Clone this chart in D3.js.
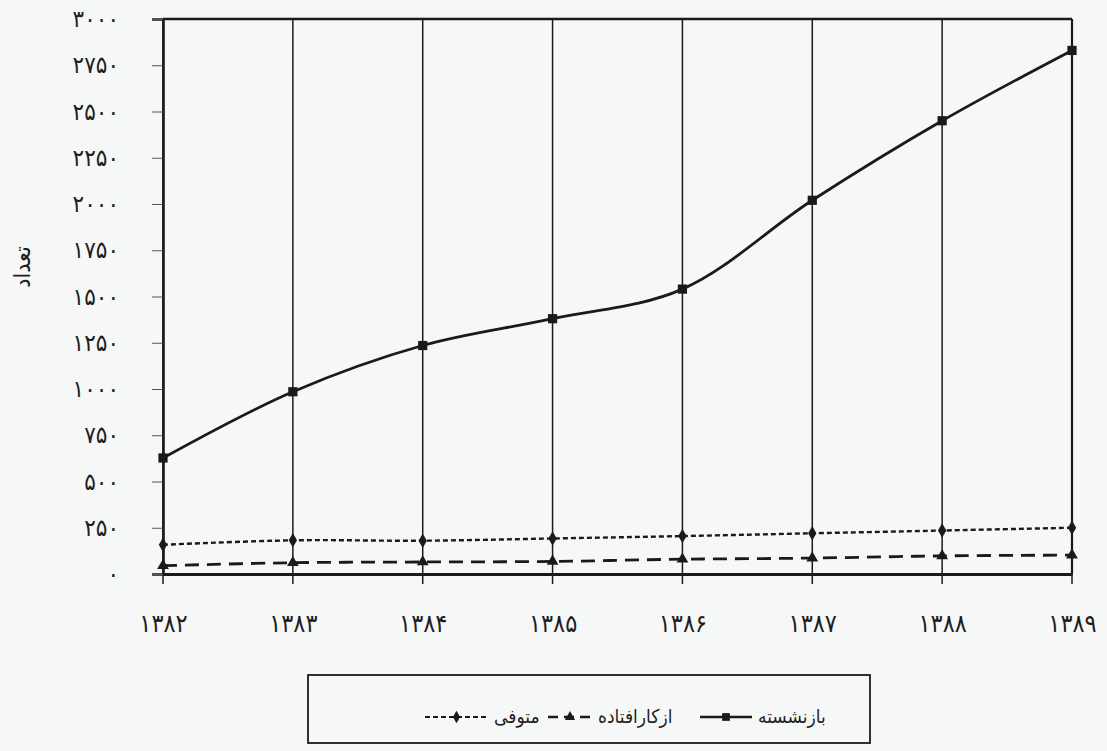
<!DOCTYPE html>
<html>
<head>
<meta charset="utf-8">
<script src="https://cdn.jsdelivr.net/npm/d3@7"></script>
<style>
  html, body { margin: 0; padding: 0; background: #f6f8f8; }
  svg { display: block; }
  text { font-family: "DejaVu Sans Condensed", "DejaVu Sans", sans-serif; fill: #1e1e1e; }
</style>
</head>
<body>
<svg id="chart" width="1107" height="751"></svg>
<script>
// ---- data ----
const categories = ["1382", "1383", "1384", "1385", "1386", "1387", "1388", "1389"];
const categoryLabels = ["۱۳۸۲", "۱۳۸۳", "۱۳۸۴", "۱۳۸۵", "۱۳۸۶", "۱۳۸۷", "۱۳۸۸", "۱۳۸۹"];
const retired = [627, 985, 1235, 1380, 1540, 2020, 2450, 2830];   // بازنشسته
const disabled = [45, 61, 65, 68, 80, 86, 98, 102];                // ازکارافتاده
const deceased = [158, 182, 180, 192, 205, 220, 235, 250];         // متوفی
const yTicks = [0, 250, 500, 750, 1000, 1250, 1500, 1750, 2000, 2250, 2500, 2750, 3000];
const yTickLabels = ["٠", "۲۵٠", "۵٠٠", "۷۵٠", "۱٠٠٠", "۱۲۵٠", "۱۵٠٠", "۱۷۵٠", "۲٠٠٠", "۲۲۵٠", "۲۵٠٠", "۲۷۵٠", "۳٠٠٠"];
const seriesNames = ["بازنشسته", "ازکارافتاده", "متوفی"];
const yTitle = "تعداد";

// ---- layout ----
const svg = d3.select("#chart");
const plotLeft = 163, plotRight = 1072, plotTop = 19, plotBottom = 574;
const x = d3.scalePoint().domain(categories).range([plotLeft, plotRight]);
const y = d3.scaleLinear().domain([0, 3000]).range([plotBottom, plotTop]);
const ink = "#1a1a1a";
const fontStack = '"DejaVu Sans Condensed", "DejaVu Sans", sans-serif';

// vertical gridlines
svg.append("g").selectAll("line").data(categories).join("line")
  .attr("x1", d => x(d)).attr("x2", d => x(d))
  .attr("y1", y(3000)).attr("y2", y(0) + 10)
  .attr("stroke", ink).attr("stroke-width", 1.5);

// top & right border
svg.append("line").attr("x1", plotLeft).attr("x2", plotRight).attr("y1", y(3000)).attr("y2", y(3000))
  .attr("stroke", ink).attr("stroke-width", 2.4);
svg.append("line").attr("x1", plotRight).attr("x2", plotRight).attr("y1", y(3000)).attr("y2", y(0))
  .attr("stroke", ink).attr("stroke-width", 2.2);

// y axis
const yAxis = d3.axisLeft(y).tickValues(yTicks)
  .tickFormat((d, i) => yTickLabels[i]).tickSize(11).tickPadding(33);
const gy = svg.append("g").attr("transform", `translate(${plotLeft},0)`).call(yAxis);
gy.select(".domain").attr("stroke", ink).attr("stroke-width", 2.6);
gy.selectAll(".tick line").attr("stroke", "#555").attr("stroke-width", 1);
gy.selectAll(".tick text").attr("font-size", 24).attr("fill", ink)
  .style("font-family", fontStack);

// x axis (zero line) + labels
const xAxis = d3.axisBottom(x).tickFormat((d, i) => categoryLabels[i]).tickSize(0).tickPadding(40);
const gx = svg.append("g").attr("transform", `translate(0,${y(0)})`).call(xAxis);
gx.select(".domain").attr("stroke", ink).attr("stroke-width", 2.8);
gx.selectAll(".tick text").attr("font-size", 25).attr("fill", ink)
  .style("font-family", fontStack);

// y title
svg.append("text").attr("transform", `translate(30,267) rotate(-90)`)
  .attr("text-anchor", "middle").attr("font-size", 23).text(yTitle);

// series
const curve = d3.curveCatmullRom.alpha(0.5);
const lineGen = d3.line().x((d, i) => x(categories[i])).y(d => y(d)).curve(curve);

const series = [
  { name: seriesNames[0], values: retired, dash: null, width: 2.8, marker: "square" },
  { name: seriesNames[1], values: disabled, dash: "14,8", width: 2.8, marker: "triangle" },
  { name: seriesNames[2], values: deceased, dash: "5,3", width: 2.4, marker: "diamond" }
];
const symbolFor = m => m === "square" ? d3.symbolSquare : (m === "triangle" ? d3.symbolTriangle : d3.symbolDiamond);
const sizeFor = m => m === "square" ? 85 : 60;

series.forEach(s => {
  svg.append("path").datum(s.values).attr("d", lineGen)
    .attr("fill", "none").attr("stroke", ink).attr("stroke-width", s.width)
    .attr("stroke-dasharray", s.dash);
  svg.append("g").selectAll("path").data(s.values).join("path")
    .attr("transform", (d, i) => `translate(${x(categories[i])},${y(d)})`)
    .attr("d", d3.symbol().type(symbolFor(s.marker)).size(sizeFor(s.marker)))
    .attr("fill", ink);
});

// legend
const lg = svg.append("g");
lg.append("rect").attr("x", 308).attr("y", 675).attr("width", 562).attr("height", 68)
  .attr("fill", "none").attr("stroke", ink).attr("stroke-width", 1.8);
const legendItems = [
  { s: series[0], x0: 700, x1: 752, tx: 758 },
  { s: series[1], x0: 548, x1: 592, tx: 598 },
  { s: series[2], x0: 425, x1: 488, tx: 494 }
];
const ly = 717;
legendItems.forEach(it => {
  lg.append("line").attr("x1", it.x0).attr("x2", it.x1).attr("y1", ly).attr("y2", ly)
    .attr("stroke", ink).attr("stroke-width", it.s.marker === "diamond" ? 2 : 2.6)
    .attr("stroke-dasharray", it.s.marker === "triangle" ? "10,6" : it.s.dash);
  lg.append("path").attr("transform", `translate(${(it.x0 + it.x1) / 2},${ly})`)
    .attr("d", d3.symbol().type(symbolFor(it.s.marker)).size(it.s.marker === "square" ? 60 : 45))
    .attr("fill", ink);
  lg.append("text").attr("x", it.tx).attr("y", ly + 6).attr("font-size", 19)
    .attr("text-anchor", "start").attr("direction", "ltr").text(it.s.name);
});
</script>
</body>
</html>
